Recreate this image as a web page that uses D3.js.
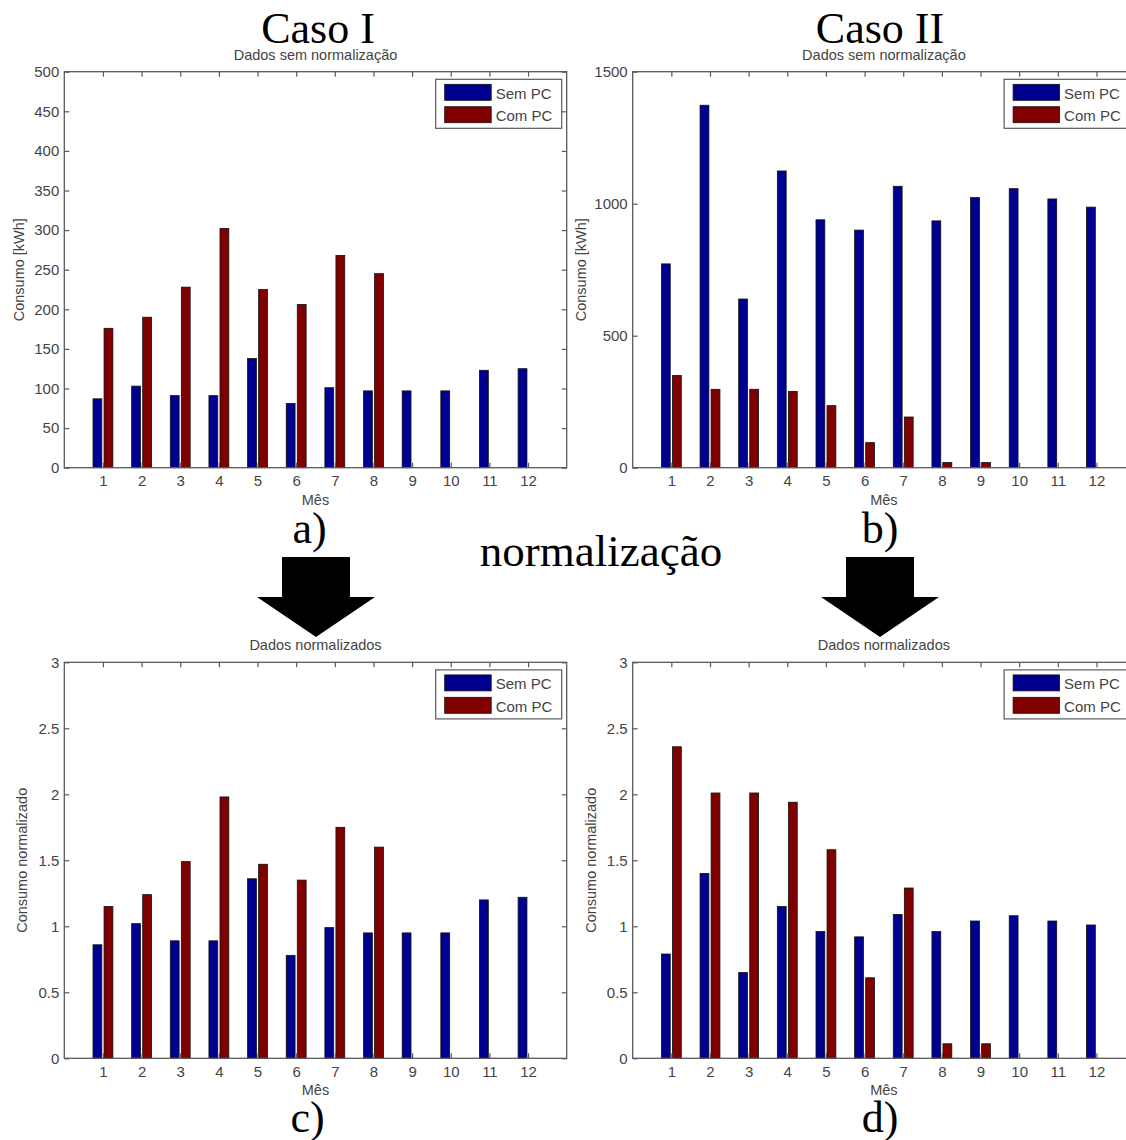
<!DOCTYPE html>
<html>
<head>
<meta charset="utf-8">
<script src="https://cdn.jsdelivr.net/npm/d3@7"></script>
<style>
  body { margin: 0; background: #fff; }
  svg text { font-family: "Liberation Sans", Arial, sans-serif; }
</style>
</head>
<body>
<div id="wrapper"></div>
<script>
/* global d3 */

const months = [1, 2, 3, 4, 5, 6, 7, 8, 9, 10, 11, 12];
const seriesNames = ["Sem PC", "Com PC"];

// a) Caso I, dados sem normalizacao
const semPcA = [87, 103, 91, 91, 138, 81, 101, 97, 97, 97, 123, 125];
const comPcA = [176, 190, 228, 302, 225, 206, 268, 245, 0, 0, 0, 0];
// b) Caso II, dados sem normalizacao
const semPcB = [772, 1373, 639, 1124, 939, 900, 1066, 935, 1023, 1057, 1018, 987];
const comPcB = [349, 297, 297, 289, 235, 95, 192, 20, 20, 0, 0, 0];
// c) Caso I, normalizados
const semPcC = [0.86, 1.02, 0.89, 0.89, 1.36, 0.78, 0.99, 0.95, 0.95, 0.95, 1.2, 1.22];
const comPcC = [1.15, 1.24, 1.49, 1.98, 1.47, 1.35, 1.75, 1.6, 0, 0, 0, 0];
// d) Caso II, normalizados
const semPcD = [0.79, 1.4, 0.65, 1.15, 0.96, 0.92, 1.09, 0.96, 1.04, 1.08, 1.04, 1.01];
const comPcD = [2.36, 2.01, 2.01, 1.94, 1.58, 0.61, 1.29, 0.11, 0.11, 0, 0, 0];

const ticksA = [0, 50, 100, 150, 200, 250, 300, 350, 400, 450, 500];
const ticksB = [0, 500, 1000, 1500];
const ticksNorm = [0, 0.5, 1, 1.5, 2, 2.5, 3];

const colors = ["#000090", "#800000"];
const axisColor = "#5a5a5a";
const textColor = "#444";

const width = 1126;
const height = 1140;
const plotW = 502.4;
const plotH = 396;

const panels = [
  { sem: semPcA, com: comPcA, ticks: ticksA, left: 64.3, top: 71.7,
    title: "Dados sem normalização", ylabel: "Consumo [kWh]", yOff: 40,
    letter: "a)", letterX: 309.5, letterY: 543 },
  { sem: semPcB, com: comPcB, ticks: ticksB, left: 632.7, top: 71.7,
    title: "Dados sem normalização", ylabel: "Consumo [kWh]", yOff: 47,
    letter: "b)", letterX: 880, letterY: 543 },
  { sem: semPcC, com: comPcC, ticks: ticksNorm, left: 64.3, top: 662.3,
    title: "Dados normalizados", ylabel: "Consumo normalizado", yOff: 37,
    letter: "c)", letterX: 307.5, letterY: 1132 },
  { sem: semPcD, com: comPcD, ticks: ticksNorm, left: 632.7, top: 662.3,
    title: "Dados normalizados", ylabel: "Consumo normalizado", yOff: 37,
    letter: "d)", letterX: 880, letterY: 1132 },
];

const svg = d3
  .select("#wrapper")
  .append("svg")
  .attr("width", width)
  .attr("height", height)
  .style("display", "block");

svg.append("rect").attr("width", width).attr("height", height).attr("fill", "#fff");

// MATLAB grouped bar geometry (2 series)
const barWidth = 0.2286;
const offsets = [-0.1429, 0.1429];

const drawPanel = (p) => {
  const xScale = d3.scaleLinear().domain([0, 13]).range([0, plotW]);
  const yMax = p.ticks[p.ticks.length - 1];
  const yScale = d3.scaleLinear().domain([0, yMax]).range([plotH, 0]);

  const bounds = svg
    .append("g")
    .attr("transform", `translate(${p.left},${p.top})`);

  bounds
    .append("rect")
    .attr("width", plotW)
    .attr("height", plotH)
    .attr("fill", "#fff");

  const series = [p.sem, p.com];
  series.forEach((values, s) => {
    bounds
      .selectAll(`.bar-${s}`)
      .data(months.map((m, i) => ({ m, v: values[i] })))
      .join("rect")
      .attr("class", `bar-${s}`)
      .attr("x", (d) => xScale(d.m + offsets[s] - barWidth / 2))
      .attr("width", xScale(barWidth) - xScale(0))
      .attr("y", (d) => yScale(d.v))
      .attr("height", (d) => yScale(0) - yScale(d.v))
      .attr("fill", colors[s])
      .attr("stroke", "#111")
      .attr("stroke-width", 0.8);
  });

  const fmt = (d) => String(d);

  const xAxis = bounds
    .append("g")
    .attr("transform", `translate(0,${plotH})`)
    .call(d3.axisBottom(xScale).tickValues(months).tickSize(-5).tickPadding(8));
  const xTop = bounds
    .append("g")
    .call(d3.axisTop(xScale).tickValues(months).tickSize(-5).tickFormat(""));
  const yAxis = bounds
    .append("g")
    .call(d3.axisLeft(yScale).tickValues(p.ticks).tickSize(-5).tickPadding(5).tickFormat(fmt));
  const yRight = bounds
    .append("g")
    .attr("transform", `translate(${plotW},0)`)
    .call(d3.axisRight(yScale).tickValues(p.ticks).tickSize(-5).tickFormat(""));

  [xAxis, xTop, yAxis, yRight].forEach((g) => {
    g.select(".domain").remove();
    g.selectAll("line").attr("stroke", axisColor).attr("stroke-width", 1.2);
    g.selectAll("text")
      .attr("fill", textColor)
      .style("font-size", "15px")
      .style("font-family", '"Liberation Sans", Arial, sans-serif');
  });

  bounds
    .append("rect")
    .attr("width", plotW)
    .attr("height", plotH)
    .attr("fill", "none")
    .attr("stroke", axisColor)
    .attr("stroke-width", 1.3);

  // legend
  const lg = bounds
    .append("g")
    .attr("transform", `translate(${plotW - 131},7.6)`);
  lg.append("rect")
    .attr("width", 126)
    .attr("height", 49)
    .attr("fill", "#fff")
    .attr("stroke", axisColor)
    .attr("stroke-width", 1.2);
  seriesNames.forEach((name, s) => {
    lg.append("rect")
      .attr("x", 9)
      .attr("y", 5 + s * 22.4)
      .attr("width", 46.5)
      .attr("height", 16)
      .attr("fill", colors[s])
      .attr("stroke", "#111")
      .attr("stroke-width", 0.8);
    lg.append("text")
      .attr("x", 60)
      .attr("y", 19.5 + s * 22.4)
      .attr("fill", textColor)
      .style("font-size", "15px")
      .text(name);
  });

  // titles and axis labels
  bounds
    .append("text")
    .attr("x", plotW / 2)
    .attr("y", -12)
    .attr("text-anchor", "middle")
    .attr("fill", textColor)
    .style("font-size", "14.5px")
    .text(p.title);

  bounds
    .append("text")
    .attr("x", plotW / 2)
    .attr("y", plotH + 37)
    .attr("text-anchor", "middle")
    .attr("fill", textColor)
    .style("font-size", "14.5px")
    .text("Mês");

  bounds
    .append("text")
    .attr("transform", `translate(${-p.yOff},${plotH / 2}) rotate(-90)`)
    .attr("text-anchor", "middle")
    .attr("fill", textColor)
    .style("font-size", "14.5px")
    .text(p.ylabel);

  svg
    .append("text")
    .attr("x", p.letterX)
    .attr("y", p.letterY)
    .attr("text-anchor", "middle")
    .style("font-family", '"Liberation Serif", "Times New Roman", serif')
    .style("font-size", "44px")
    .attr("fill", "#000")
    .text(p.letter);
};

panels.forEach(drawPanel);

// big labels
const serif = '"Liberation Serif", "Times New Roman", serif';
[
  { t: "Caso I", x: 318, y: 43 },
  { t: "Caso II", x: 880, y: 43 },
  { t: "normalização", x: 601, y: 566 },
].forEach((d) => {
  svg
    .append("text")
    .attr("x", d.x)
    .attr("y", d.y)
    .attr("text-anchor", "middle")
    .style("font-family", serif)
    .style("font-size", d.t === "normalização" ? "45px" : "44px")
    .attr("fill", "#000")
    .text(d.t);
});

// arrows
const arrow = (cx) =>
  d3.line()([
    [cx - 34, 557],
    [cx + 34, 557],
    [cx + 34, 597],
    [cx + 59, 597],
    [cx, 637],
    [cx - 59, 597],
    [cx - 34, 597],
  ]) + "Z";

[316, 880].forEach((cx) => {
  svg.append("path").attr("d", arrow(cx)).attr("fill", "#000");
});
</script>
</body>
</html>
